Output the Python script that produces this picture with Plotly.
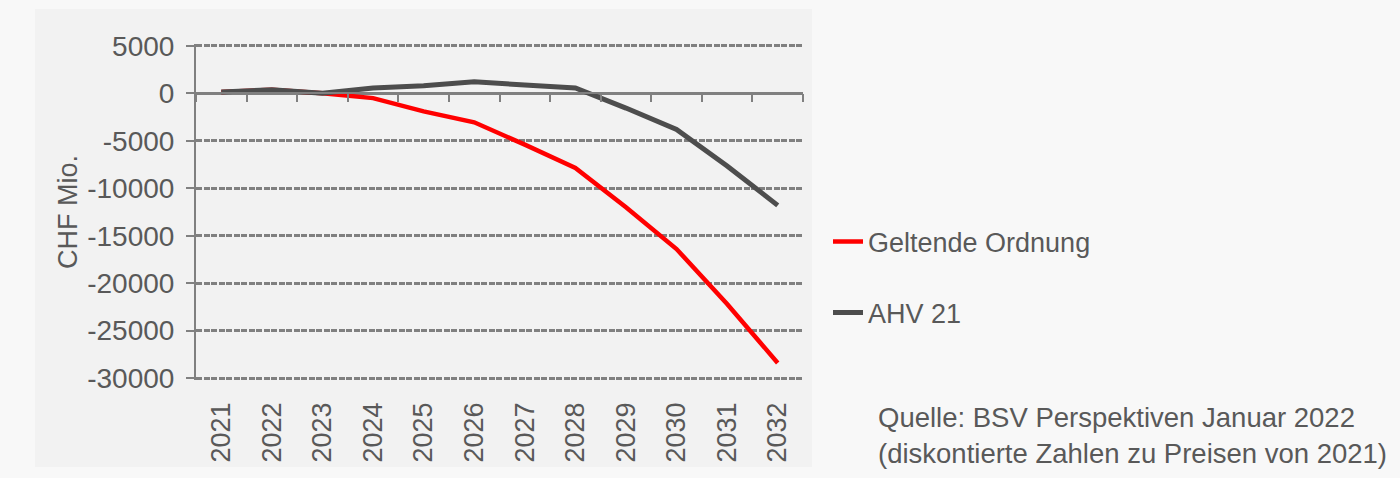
import plotly.graph_objects as go

years = ["2021", "2022", "2023", "2024", "2025", "2026", "2027", "2028", "2029", "2030", "2031", "2032"]
geltende_ordnung = [140, 380, 0, -500, -1900, -3050, -5400, -7850, -12000, -16400, -22200, -28400]
ahv21 = [140, 380, 0, 560, 800, 1220, 880, 560, -1550, -3800, -7650, -11800]
y_ticks = [5000, 0, -5000, -10000, -15000, -20000, -25000, -30000]
y_labels = [str(v) for v in y_ticks]

FONT = "Liberation Sans, Arial, sans-serif"
TXT = "#595959"
GRID = "#808080"

Y0, Y1 = -30200, 5200          # range padded so the edge gridlines are drawn
TOP, BOT = 44, 380             # pixel rows of the plot area
H = BOT - TOP

fig = go.Figure()
fig.add_trace(go.Scatter(x=years, y=geltende_ordnung, mode="lines", name="Geltende Ordnung",
                         line=dict(color="#ff0000", width=4.5), legend="legend"))
fig.add_trace(go.Scatter(x=years, y=ahv21, mode="lines", name="AHV 21",
                         line=dict(color="#4d4d4d", width=5), legend="legend2"))
# helper trace so the zero-axis (xaxis2) is drawn
fig.add_trace(go.Scatter(x=years, y=[None] * len(years), xaxis="x2", yaxis="y",
                         showlegend=False, hoverinfo="skip", mode="lines"))

fig.update_layout(
    width=1400, height=478,
    margin=dict(l=196, r=597, t=TOP, b=478 - BOT),
    paper_bgcolor="#f8f8f8",
    plot_bgcolor="#f2f2f2",
    font=dict(family=FONT, size=28, color=TXT),
    showlegend=True,
    xaxis=dict(type="category", categoryorder="array", categoryarray=years,
               range=[-0.5, 11.5], showgrid=False, zeroline=False, showline=False,
               ticks="", tickangle=-90, ticklabelstandoff=16,
               tickfont=dict(family=FONT, size=27, color=TXT)),
    xaxis2=dict(type="category", categoryorder="array", categoryarray=years,
                overlaying="x", anchor="free", position=(0 - Y0) / (Y1 - Y0),
                range=[-0.5, 11.5], showgrid=False, zeroline=False,
                showline=True, linecolor=GRID, linewidth=2,
                ticks="outside", tickson="boundaries", ticklen=8, tickwidth=2, tickcolor=GRID,
                showticklabels=False),
    yaxis=dict(range=[Y0, Y1], tickvals=y_ticks, ticktext=y_labels,
               showgrid=True, gridcolor=GRID, gridwidth=2.5, griddash="6px,1.5px",
               zeroline=True, zerolinecolor=GRID, zerolinewidth=2.5,
               showline=True, linecolor=GRID, linewidth=2,
               ticks="outside", ticklen=8, tickwidth=2, tickcolor=GRID,
               ticklabelstandoff=6,
               tickfont=dict(family=FONT, size=28, color=TXT),
               title=dict(text="CHF Mio.", standoff=2, font=dict(family=FONT, size=27, color=TXT))),
    legend=dict(x=(828 - 196) / 607, y=(BOT - 242) / H, xanchor="left", yanchor="middle",
                bgcolor="rgba(0,0,0,0)", borderwidth=0,
                font=dict(family=FONT, size=27, color=TXT)),
    legend2=dict(x=(828 - 196) / 607, y=(BOT - 313) / H, xanchor="left", yanchor="middle",
                 bgcolor="rgba(0,0,0,0)", borderwidth=0,
                 font=dict(family=FONT, size=27, color=TXT)),
    shapes=[dict(type="rect", xref="paper", yref="paper",
                 x0=(35 - 196) / 607, x1=(812 - 196) / 607,
                 y0=(BOT - 467) / H, y1=(BOT - 9) / H,
                 fillcolor="#f2f2f2", line=dict(width=0), layer="below")],
    annotations=[dict(xref="paper", yref="paper", x=(876 - 196) / 607, y=(BOT - 435) / H,
                      xanchor="left", yanchor="middle", align="left", showarrow=False,
                      text="Quelle: BSV Perspektiven Januar 2022<br>(diskontierte Zahlen zu Preisen von 2021)",
                      font=dict(family=FONT, size=27.5, color=TXT))],
)

fig.write_html("out.html")
